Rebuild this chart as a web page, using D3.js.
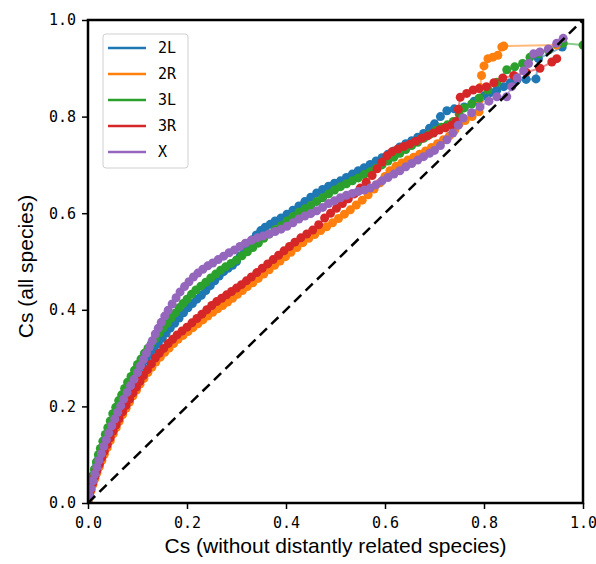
<!DOCTYPE html>
<html>
<head>
<meta charset="utf-8">
<script src="https://cdn.jsdelivr.net/npm/d3@7"></script>
<style>
  body { margin: 0; background: #fff; }
  .tick text { font-family: "DejaVu Sans Mono", monospace; font-size: 15px; fill: #000; }
  .axis-label { font-family: "Liberation Sans", Arial, sans-serif; font-size: 21px; fill: #000; }
  .legend text { font-family: "DejaVu Sans Mono", monospace; font-size: 15px; fill: #000; }
</style>
</head>
<body>
<svg id="chart"></svg>
<script>
// series names and colours (matplotlib default cycle)
const seriesNames = ['2L', '2R', '3L', '3R', 'X'];
const seriesColors = ['#1f77b4', '#ff7f0e', '#2ca02c', '#d62728', '#9467bd'];
const tickValues = [0, 0.2, 0.4, 0.6, 0.8, 1.0];

// [Cs without distantly related species, Cs all species]
const data2L = [[0,0],[0.003,0.02],[0.006,0.036],[0.01,0.052],[0.014,0.066],[0.018,0.08],[0.022,0.093],[0.027,0.108],[0.032,0.122],[0.037,0.136],[0.043,0.151],[0.049,0.166],[0.055,0.18],[0.061,0.194],[0.067,0.207],[0.074,0.221],[0.081,0.234],[0.088,0.247],[0.095,0.26],[0.102,0.272],[0.11,0.284],[0.118,0.296],[0.126,0.308],[0.134,0.319],[0.142,0.33],[0.15,0.341],[0.158,0.352],[0.166,0.362],[0.175,0.372],[0.184,0.383],[0.193,0.394],[0.202,0.404],[0.211,0.413],[0.22,0.422],[0.229,0.43],[0.238,0.44],[0.247,0.45],[0.256,0.46],[0.265,0.47],[0.274,0.479],[0.283,0.486],[0.292,0.492],[0.3,0.5],[0.308,0.512],[0.316,0.524],[0.324,0.535],[0.332,0.545],[0.34,0.555],[0.349,0.564],[0.358,0.571],[0.368,0.577],[0.378,0.584],[0.39,0.59],[0.402,0.598],[0.414,0.606],[0.426,0.615],[0.438,0.624],[0.45,0.633],[0.462,0.642],[0.474,0.649],[0.486,0.656],[0.498,0.662],[0.51,0.667],[0.522,0.674],[0.534,0.681],[0.546,0.688],[0.558,0.694],[0.57,0.701],[0.582,0.708],[0.594,0.715],[0.606,0.722],[0.618,0.729],[0.63,0.737],[0.642,0.744],[0.654,0.75],[0.666,0.757],[0.678,0.765],[0.69,0.776],[0.7,0.785],[0.712,0.8],[0.725,0.812],[0.74,0.816],[0.76,0.82],[0.78,0.832],[0.8,0.843],[0.813,0.85],[0.826,0.855],[0.84,0.862],[0.853,0.87],[0.866,0.875],[0.885,0.877],[0.905,0.878],[0.91,0.92],[0.958,0.944]];

const data2R = [[0,0],[0.003,0.012],[0.006,0.025],[0.01,0.038],[0.014,0.05],[0.018,0.062],[0.023,0.075],[0.028,0.088],[0.033,0.101],[0.039,0.115],[0.045,0.129],[0.051,0.143],[0.057,0.156],[0.063,0.169],[0.07,0.183],[0.077,0.196],[0.084,0.209],[0.091,0.222],[0.098,0.234],[0.105,0.246],[0.113,0.258],[0.121,0.27],[0.129,0.281],[0.137,0.292],[0.146,0.302],[0.155,0.312],[0.164,0.321],[0.173,0.33],[0.182,0.339],[0.192,0.347],[0.202,0.355],[0.212,0.363],[0.222,0.371],[0.232,0.379],[0.242,0.387],[0.252,0.395],[0.262,0.402],[0.272,0.409],[0.282,0.416],[0.292,0.424],[0.302,0.432],[0.312,0.44],[0.322,0.448],[0.333,0.456],[0.344,0.465],[0.355,0.474],[0.366,0.483],[0.377,0.492],[0.388,0.501],[0.399,0.51],[0.41,0.519],[0.422,0.529],[0.434,0.539],[0.446,0.548],[0.458,0.556],[0.47,0.564],[0.482,0.572],[0.494,0.58],[0.506,0.589],[0.518,0.598],[0.53,0.607],[0.542,0.617],[0.554,0.627],[0.566,0.638],[0.578,0.65],[0.59,0.663],[0.6,0.676],[0.61,0.688],[0.622,0.697],[0.634,0.704],[0.646,0.71],[0.658,0.716],[0.67,0.722],[0.682,0.729],[0.694,0.736],[0.706,0.744],[0.718,0.752],[0.73,0.76],[0.741,0.772],[0.75,0.785],[0.762,0.792],[0.776,0.8],[0.79,0.81],[0.791,0.835],[0.792,0.86],[0.795,0.885],[0.8,0.905],[0.808,0.92],[0.818,0.923],[0.828,0.927],[0.836,0.944],[0.84,0.946],[0.947,0.948]];

const data3L = [[0,0],[0.003,0.022],[0.006,0.04],[0.009,0.056],[0.013,0.07],[0.017,0.085],[0.021,0.1],[0.025,0.113],[0.03,0.128],[0.035,0.142],[0.04,0.156],[0.045,0.17],[0.05,0.185],[0.056,0.198],[0.062,0.212],[0.068,0.224],[0.074,0.237],[0.08,0.25],[0.087,0.262],[0.094,0.275],[0.1,0.287],[0.107,0.298],[0.114,0.31],[0.121,0.32],[0.128,0.33],[0.136,0.34],[0.144,0.352],[0.152,0.362],[0.16,0.372],[0.168,0.383],[0.176,0.393],[0.184,0.404],[0.192,0.413],[0.2,0.422],[0.209,0.432],[0.218,0.441],[0.228,0.449],[0.238,0.457],[0.248,0.466],[0.258,0.474],[0.268,0.482],[0.278,0.489],[0.289,0.496],[0.3,0.503],[0.311,0.512],[0.322,0.52],[0.333,0.529],[0.344,0.538],[0.355,0.548],[0.366,0.557],[0.378,0.566],[0.39,0.574],[0.402,0.584],[0.414,0.593],[0.426,0.602],[0.438,0.609],[0.45,0.616],[0.462,0.624],[0.474,0.632],[0.486,0.64],[0.498,0.648],[0.51,0.655],[0.522,0.661],[0.534,0.667],[0.546,0.673],[0.558,0.68],[0.57,0.686],[0.582,0.693],[0.594,0.7],[0.606,0.708],[0.618,0.716],[0.63,0.724],[0.642,0.732],[0.654,0.74],[0.666,0.747],[0.678,0.755],[0.69,0.763],[0.702,0.771],[0.714,0.778],[0.726,0.783],[0.738,0.79],[0.75,0.805],[0.76,0.818],[0.775,0.826],[0.79,0.838],[0.808,0.855],[0.826,0.871],[0.846,0.897],[0.862,0.903],[0.878,0.91],[0.893,0.923],[0.91,0.93],[0.93,0.938],[0.96,0.952],[1.0,0.948]];

const data3R = [[0,0],[0.003,0.015],[0.006,0.028],[0.01,0.042],[0.014,0.055],[0.018,0.067],[0.023,0.08],[0.028,0.094],[0.033,0.107],[0.039,0.121],[0.045,0.135],[0.051,0.149],[0.057,0.162],[0.063,0.175],[0.07,0.189],[0.077,0.202],[0.084,0.215],[0.091,0.228],[0.098,0.24],[0.105,0.252],[0.112,0.264],[0.12,0.276],[0.128,0.288],[0.136,0.3],[0.144,0.31],[0.153,0.32],[0.162,0.33],[0.171,0.339],[0.18,0.348],[0.19,0.356],[0.2,0.364],[0.21,0.373],[0.22,0.382],[0.23,0.391],[0.24,0.4],[0.25,0.409],[0.26,0.417],[0.27,0.424],[0.28,0.431],[0.29,0.438],[0.3,0.445],[0.31,0.452],[0.32,0.46],[0.33,0.468],[0.341,0.477],[0.352,0.486],[0.363,0.495],[0.374,0.504],[0.385,0.513],[0.396,0.522],[0.407,0.531],[0.418,0.54],[0.43,0.549],[0.442,0.557],[0.454,0.565],[0.466,0.576],[0.478,0.59],[0.49,0.6],[0.502,0.61],[0.514,0.62],[0.526,0.63],[0.538,0.64],[0.55,0.652],[0.562,0.664],[0.574,0.678],[0.584,0.692],[0.594,0.706],[0.604,0.719],[0.614,0.727],[0.626,0.733],[0.638,0.738],[0.65,0.743],[0.662,0.749],[0.674,0.755],[0.686,0.76],[0.698,0.766],[0.71,0.772],[0.722,0.777],[0.734,0.782],[0.744,0.79],[0.748,0.815],[0.752,0.84],[0.765,0.848],[0.778,0.855],[0.79,0.858],[0.805,0.862],[0.82,0.87],[0.838,0.88],[0.86,0.885],[0.885,0.892],[0.913,0.9],[0.937,0.913],[0.947,0.92]];

const dataX = [[0,0],[0.003,0.014],[0.006,0.03],[0.01,0.046],[0.014,0.06],[0.018,0.074],[0.022,0.088],[0.027,0.102],[0.032,0.117],[0.037,0.131],[0.042,0.145],[0.048,0.16],[0.054,0.174],[0.06,0.188],[0.066,0.201],[0.072,0.215],[0.079,0.229],[0.086,0.243],[0.093,0.256],[0.1,0.27],[0.106,0.284],[0.112,0.297],[0.118,0.31],[0.124,0.323],[0.13,0.336],[0.136,0.35],[0.142,0.362],[0.148,0.374],[0.155,0.387],[0.162,0.399],[0.17,0.412],[0.178,0.425],[0.186,0.437],[0.195,0.448],[0.204,0.458],[0.213,0.468],[0.222,0.476],[0.232,0.484],[0.242,0.491],[0.252,0.497],[0.263,0.504],[0.274,0.511],[0.285,0.518],[0.296,0.524],[0.307,0.531],[0.318,0.538],[0.33,0.544],[0.342,0.549],[0.354,0.553],[0.366,0.557],[0.378,0.562],[0.39,0.567],[0.402,0.573],[0.414,0.58],[0.426,0.588],[0.438,0.594],[0.45,0.599],[0.462,0.605],[0.474,0.612],[0.486,0.62],[0.498,0.626],[0.51,0.632],[0.522,0.637],[0.534,0.641],[0.546,0.645],[0.558,0.648],[0.57,0.652],[0.582,0.659],[0.594,0.667],[0.606,0.674],[0.618,0.681],[0.63,0.688],[0.642,0.696],[0.654,0.703],[0.666,0.71],[0.678,0.717],[0.69,0.724],[0.7,0.73],[0.712,0.74],[0.725,0.752],[0.737,0.766],[0.748,0.782],[0.758,0.797],[0.775,0.808],[0.792,0.82],[0.81,0.832],[0.826,0.841],[0.846,0.841],[0.856,0.862],[0.867,0.88],[0.88,0.895],[0.89,0.91],[0.9,0.93],[0.913,0.934],[0.93,0.94],[0.947,0.952],[0.96,0.962]];

const seriesData = [data2L, data2R, data3L, data3R, dataX];

const config = {
  width: 596, height: 564,
  margin: { top: 20, right: 13, bottom: 61, left: 88 }
};
const width = config.width - config.margin.left - config.margin.right;
const height = config.height - config.margin.top - config.margin.bottom;

const svg = d3.select('#chart')
  .attr('width', config.width)
  .attr('height', config.height);

const g = svg.append('g')
  .attr('transform', `translate(${config.margin.left},${config.margin.top})`);

const xScale = d3.scaleLinear().domain([0, 1]).range([0, width]);
const yScale = d3.scaleLinear().domain([0, 1]).range([height, 0]);

g.append('clipPath').attr('id', 'plot-clip')
  .append('rect').attr('width', width).attr('height', height);

const plot = g.append('g').attr('clip-path', 'url(#plot-clip)');

const line = d3.line().x(d => xScale(d[0])).y(d => yScale(d[1]));

// each series: faint connecting line plus solid markers
seriesData.forEach((data, i) => {
  const s = plot.append('g').attr('class', 'series');
  s.append('path')
    .datum(data)
    .attr('d', line)
    .attr('fill', 'none')
    .attr('stroke', seriesColors[i])
    .attr('stroke-opacity', 0.55)
    .attr('stroke-width', 2);
  s.selectAll('circle')
    .data(data)
    .enter().append('circle')
    .attr('cx', d => xScale(d[0]))
    .attr('cy', d => yScale(d[1]))
    .attr('r', 4.5)
    .attr('fill', seriesColors[i]);
});

// y = x reference
plot.append('path')
  .datum([[0, 0], [1, 1]])
  .attr('d', line)
  .attr('fill', 'none')
  .attr('stroke', '#000')
  .attr('stroke-width', 2.5)
  .attr('stroke-dasharray', '10,6');

// axes
const xAxis = g.append('g')
  .attr('transform', `translate(0,${height})`)
  .call(d3.axisBottom(xScale).tickValues(tickValues).tickFormat(d3.format('.1f')).tickSize(6).tickPadding(5));
const yAxis = g.append('g')
  .call(d3.axisLeft(yScale).tickValues(tickValues).tickFormat(d3.format('.1f')).tickSize(6).tickPadding(6));
[xAxis, yAxis].forEach(a => {
  a.select('.domain').remove();
  a.selectAll('.tick line').attr('stroke', '#000').attr('stroke-width', 1.5);
});
xAxis.selectAll('.tick text').attr('dy', '0.95em');

// frame
g.append('rect')
  .attr('width', width)
  .attr('height', height)
  .attr('fill', 'none')
  .attr('stroke', '#000')
  .attr('stroke-width', 2.5);

// axis labels
g.append('text')
  .attr('class', 'axis-label')
  .attr('x', width / 2)
  .attr('y', height + 50)
  .attr('text-anchor', 'middle')
  .text('Cs (without distantly related species)');

g.append('text')
  .attr('class', 'axis-label')
  .attr('transform', `translate(${33 - config.margin.left},${height / 2 + 5}) rotate(-90)`)
  .attr('text-anchor', 'middle')
  .text('Cs (all species)');

// legend
const legend = g.append('g')
  .attr('class', 'legend')
  .attr('transform', 'translate(15,14)');
legend.append('rect')
  .attr('width', 85)
  .attr('height', 134)
  .attr('rx', 3)
  .attr('fill', '#fff')
  .attr('fill-opacity', 0.8)
  .attr('stroke', '#d0d0d0')
  .attr('stroke-width', 1);
seriesNames.forEach((name, i) => {
  const row = legend.append('g').attr('transform', `translate(0,${14 + i * 26})`);
  row.append('line')
    .attr('x1', 5).attr('x2', 43)
    .attr('stroke', seriesColors[i])
    .attr('stroke-width', 2.5);
  row.append('text')
    .attr('x', 55)
    .attr('dy', '0.35em')
    .text(name);
});
</script>
</body>
</html>
